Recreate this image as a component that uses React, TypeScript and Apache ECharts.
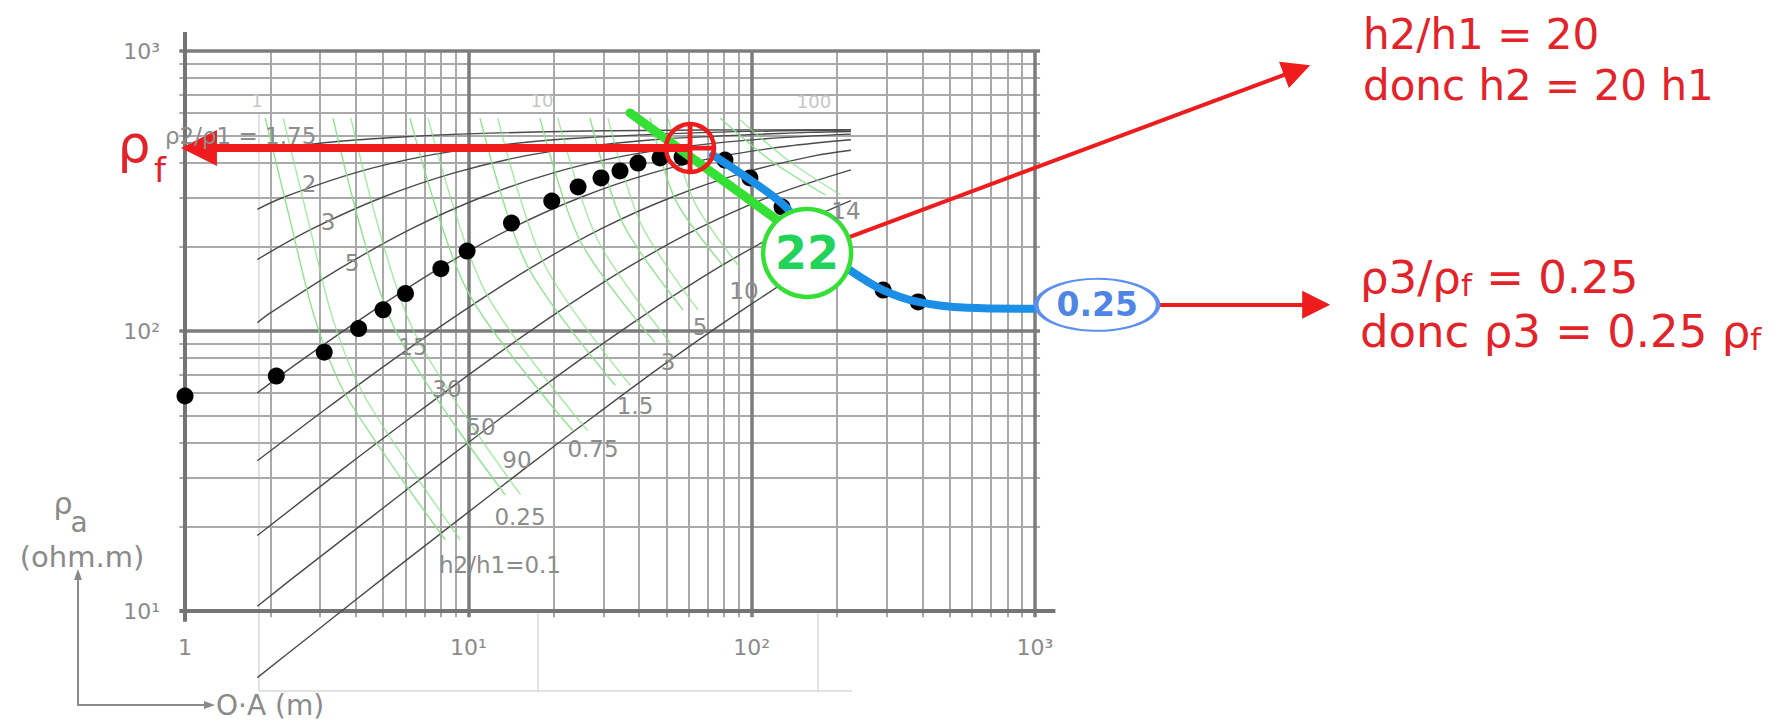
import React, { useEffect, useRef } from "react";
import * as echarts from "echarts";

// ---------- axis ticks ----------
const xTickValues = [1, 10, 100, 1000];
const xTickLabels = ["1", "10¹", "10²", "10³"];
const yTickValues = [10, 100, 1000];
const yTickLabels = ["10¹", "10²", "10³"];

// ---------- log grid ----------
const xMinorGrid = [2, 3, 4, 5, 6, 7, 8, 9, 20, 30, 40, 50, 60, 70, 80, 90, 200, 300, 400, 500, 600, 700, 800, 900];
const xMajorGrid = [10, 100, 1000];
const yMinorGrid = [20, 30, 40, 50, 60, 70, 80, 90, 200, 300, 400, 500, 600, 700, 800, 900];
const yMajorGrid = [100, 1000];

// faint frame of the underlying abacus (data units)
const abacusFrameX = [1.825, 17.62, 171.6];
const abacusFrameBottom = 5.18;
const abacusFrameRight = 226;

// ---------- field measurements (AB/2 in m, rho_a in ohm.m) ----------
const fieldX = [1, 2.1, 3.1, 4.1, 5.0, 6.0, 8.0, 9.9, 14.2, 19.7, 24.4, 29.4, 34.3, 39.7, 47.5, 56.8, 80.5, 98.6, 128, 291, 387];
const fieldY = [58.6, 69, 84, 102, 119, 136, 167, 193, 243, 291, 327, 352, 373, 398, 415, 418, 408, 352, 277, 140, 127];

// ---------- abacus black curves ----------
const curve175 = [[1.8, 437], [3.16, 471], [5.62, 492], [10, 506], [31.6, 519], [224, 524]];
const curve2 = [[1.8, 272], [2.24, 301], [3.98, 367], [7.08, 422], [12.6, 460], [22.4, 486], [70.8, 512], [224, 522]];
const curve3 = [[1.8, 180], [2.82, 232], [5.01, 301], [8.91, 367], [15.85, 422], [28.2, 460], [50.1, 486], [158.5, 512], [224, 516]];
const curve5 = [[1.8, 107], [2.0, 116], [3.55, 168], [6.31, 232], [11.2, 301], [19.95, 367], [35.5, 422], [63.1, 460], [112, 486], [224, 505]];
const curve10 = [[1.8, 60.1], [2.51, 77.1], [4.47, 115.6], [7.94, 168], [14.1, 232], [25.1, 301], [44.7, 367], [79.4, 422], [141, 460], [224, 482]];
const curve15 = [[1.8, 34.4], [2.95, 50.2], [5.25, 77.1], [9.33, 115.6], [16.6, 168], [29.5, 232], [52.5, 301], [93.3, 367], [166, 422], [224, 442]];
const curve30 = [[1.8, 18.6], [3.63, 32.3], [6.46, 50.2], [11.5, 77.1], [20.4, 115.6], [36.3, 168], [64.6, 232], [115, 301], [224, 376]];
const curve50 = [[1.8, 10.4], [2.4, 13.1], [4.27, 20.6], [7.59, 32.3], [13.5, 50.2], [24, 77.1], [42.7, 115.6], [75.9, 168], [135, 232], [224, 292]];
const curve90 = [[1.8, 5.78], [2.82, 8.28], [5.01, 13.1], [8.91, 20.6], [15.85, 32.3], [28.2, 50.2], [50.1, 77.1], [89.1, 115.6], [158.5, 168], [224, 199]];
const blackCurves = [curve175, curve2, curve3, curve5, curve10, curve15, curve30, curve50, curve90];

// ---------- abacus green curves ----------
const greenA01 = [[1.92, 576], [2.35, 249], [2.88, 110], [3.73, 58], [8.28, 18]];
const greenA025 = [[3.33, 576], [5.42, 105], [13.5, 26]];
const greenA075 = [[6.23, 576], [9.89, 140], [23.4, 44]];
const greenA15 = [[11, 576], [16.1, 172], [33, 64]];
const greenA3 = [[17.9, 576], [24.8, 210], [45.6, 91]];
const greenA5 = [[26.9, 576], [35.2, 241], [57.3, 119]];
const greenA10 = [[43.8, 576], [54.1, 291], [80.6, 168]];
const greenA14 = [[77.4, 576], [116, 408], [182, 306]];
const greenB01 = [[2.22, 576], [2.72, 249], [3.33, 110], [4.32, 58], [9.35, 18]];
const greenB025 = [[3.85, 576], [6.27, 105], [15.3, 26]];
const greenB075 = [[7.21, 576], [11.4, 140], [26.4, 44]];
const greenB15 = [[12.7, 576], [18.6, 172], [37.3, 64]];
const greenB3 = [[20.7, 576], [28.7, 210], [51.5, 91]];
const greenB5 = [[31.1, 576], [40.7, 241], [64.7, 119]];
const greenB10 = [[50.7, 576], [62.6, 291], [91.1, 168]];
const greenB14 = [[89.5, 576], [134, 408], [206, 306]];
const greenCurves = [greenA01, greenA025, greenA075, greenA15, greenA3, greenA5, greenA10, greenA14,
  greenB01, greenB025, greenB075, greenB15, greenB3, greenB5, greenB10, greenB14];

// ---------- interpretation ----------
const blueFit = [[73, 425], [99, 346], [133, 275], [161, 211], [222, 165], [291, 140], [387, 127], [576, 121], [985, 120]];
const greenFit = [[37.2, 601], [125.9, 245]];
const crossPoint = [60.6, 450];
const rhoFArrowEnd = [1.12, 450];
const circle22 = [156.9, 190];
const circle22Text = "22";
const ellipse025 = [1657, 124];
const ellipse025Text = "0.25";
const diagArrowEnd = [8414, 855];
const hArrowEnd = [9825, 124];

// ---------- texts ----------
const curveLabelTexts = ["ρ2/ρ1 = 1.75", "2", "3", "5", "15", "30", "50", "90", "0.25", "h2/h1=0.1", "0.75", "1.5", "3", "5", "10", "14"];
const curveLabelPos = [[165, 136, "left"], [309, 184], [328, 222], [352, 263], [413, 347], [447, 389], [481, 427], [517, 460], [520, 517], [500, 565], [593, 449], [635, 406], [668, 362], [700, 327], [744, 291], [846, 211]];
const abacusTopTexts = ["1", "10", "100"];
const abacusTopPos = [[257, 100], [542, 100], [814, 101]];

const FONT = '"DejaVu Sans", Verdana, sans-serif';
const RED = "#ee1c1c";
const RED_TXT = "#e3232a";
const GRAY = "#8a8a8a";

function seg(a: number[], b: number[], style: any) {
  return { coords: [a, b], lineStyle: style };
}

function tickLabel(values: number[], labels: string[]) {
  return (v: number) => {
    for (let i = 0; i < values.length; i++) {
      if (Math.abs(Math.log10(v) - Math.log10(values[i])) < 1e-6) return labels[i];
    }
    return "";
  };
}

function txt(text: string, x: number, y: number, size: number, color: string, align = "center", weight = "normal") {
  return {
    type: "text",
    z: 20,
    silent: true,
    style: {
      text, x, y, fill: color, fontSize: size, fontFamily: FONT, fontWeight: weight,
      align, verticalAlign: "middle", textAlign: align, textVerticalAlign: "middle",
    },
  };
}

// rich text: big part followed by a lowered small "f"
function richSub(main: string, sub: string, tail: string, x: number, y: number) {
  const big = { fontSize: 45, fontFamily: FONT, fill: RED_TXT, color: RED_TXT, lineHeight: 52, verticalAlign: "bottom" };
  const small = { fontSize: 31, fontFamily: FONT, fill: RED_TXT, color: RED_TXT, lineHeight: 30, verticalAlign: "bottom" };
  return {
    type: "text",
    z: 20,
    silent: true,
    style: {
      text: `{a|${main}}{s|${sub}}` + (tail ? `{a|${tail}}` : ""),
      x, y, fill: RED_TXT, fontFamily: FONT,
      align: "left", verticalAlign: "middle", textAlign: "left", textVerticalAlign: "middle",
      rich: { a: big, s: small },
    },
  };
}

function buildOption() {
  const minorStyle = { color: "#a9a9a9", width: 2, opacity: 1 };
  const majorStyle = { color: "#7d7d7d", width: 3.5, opacity: 1 };
  const axisStyle = { color: "#757575", width: 4, opacity: 1 };
  const X_LO = 0.955, X_HI = 1042, Y_LO = 9.5, X_AX_END = 1180, Y_AX_LO = 9.15, Y_AX_END = 1170;

  const gridData = [
    ...xMinorGrid.map((v) => seg([v, Y_LO], [v, 1000], minorStyle)),
    ...yMinorGrid.map((v) => seg([X_LO, v], [X_HI, v], minorStyle)),
    ...xMajorGrid.map((v) => seg([v, Y_LO], [v, 1000], majorStyle)),
    ...yMajorGrid.map((v) => seg([X_LO, v], [X_HI, v], majorStyle)),
    seg([X_LO, 10], [X_AX_END, 10], axisStyle),
    seg([1, Y_AX_LO], [1, Y_AX_END], axisStyle),
  ];

  const faintStyle = { color: "#d9d9d9", width: 1.5, opacity: 1 };
  const abacusData = [
    ...abacusFrameX.map((v, i) => seg([v, abacusFrameBottom], [v, i === 0 ? 600 : 10], faintStyle)),
    seg([abacusFrameX[0], abacusFrameBottom], [abacusFrameRight, abacusFrameBottom], faintStyle),
  ];

  const series: any[] = [
    {
      type: "lines", coordinateSystem: "cartesian2d", clip: false, silent: true, z: 1,
      lineStyle: { opacity: 1 }, data: abacusData,
    },
    {
      type: "lines", coordinateSystem: "cartesian2d", clip: false, silent: true, z: 1,
      lineStyle: { opacity: 1 }, data: gridData,
    },
    ...blackCurves.map((d) => ({
      type: "line", data: d, smooth: 0.35, showSymbol: false, symbol: "none", clip: false, silent: true, z: 2,
      lineStyle: { color: "#4a4a4a", width: 1.4 },
    })),
    ...greenCurves.map((d, i) => ({
      type: "line", data: d, smooth: 0.3, showSymbol: false, symbol: "none", clip: false, silent: true, z: 3,
      lineStyle: { color: "#88e288", width: 1.4, opacity: i < 8 ? 0.95 : 0.75 },
    })),
    {
      type: "scatter", data: fieldX.map((x, i) => [x, fieldY[i]]), symbolSize: 17, z: 4, silent: true,
      itemStyle: { color: "#000", opacity: 1 },
    },
    {
      type: "line", data: blueFit, smooth: 0.35, showSymbol: false, symbol: "none", clip: false, silent: true, z: 5,
      lineStyle: { color: "#1b8fe6", width: 8, cap: "round" },
    },
    {
      type: "line", data: greenFit, showSymbol: false, symbol: "none", clip: false, silent: true, z: 6,
      lineStyle: { color: "#33e033", width: 9, cap: "round" },
    },
    {
      type: "lines", coordinateSystem: "cartesian2d", clip: false, silent: true, z: 7,
      symbol: ["none", "triangle"], symbolSize: 30,
      lineStyle: { color: RED, opacity: 1 },
      data: [
        { coords: [crossPoint, rhoFArrowEnd], lineStyle: { color: RED, width: 8, opacity: 1 }, symbolSize: 36 },
        { coords: [circle22, diagArrowEnd], lineStyle: { color: RED, width: 4, opacity: 1 }, symbolSize: 28 },
        { coords: [ellipse025, hArrowEnd], lineStyle: { color: RED, width: 4, opacity: 1 }, symbolSize: 28 },
      ],
    },
    {
      type: "scatter", data: [crossPoint], symbolSize: 48, z: 8, silent: true, clip: false,
      itemStyle: { color: "rgba(0,0,0,0)", borderColor: RED, borderWidth: 4.5, opacity: 1 },
    },
    {
      type: "scatter", data: [crossPoint], symbolSize: 48, z: 8, silent: true, clip: false,
      symbol: "path://M9,0H11V20H9Z M0,9H20V11H0Z",
      itemStyle: { color: RED, opacity: 1 },
    },
    {
      type: "scatter", data: [{ value: circle22, name: circle22Text }], symbolSize: 88, z: 9, silent: true, clip: false,
      itemStyle: { color: "#fff", borderColor: "#36df36", borderWidth: 4.5, opacity: 1 },
      label: { show: true, position: "inside", formatter: "{b}", color: "#22d35a", fontSize: 46, fontWeight: "bold", fontFamily: FONT },
    },
    {
      type: "scatter", data: [{ value: ellipse025, name: ellipse025Text }], symbolSize: [122, 52], z: 9, silent: true, clip: false,
      itemStyle: { color: "#fff", borderColor: "#5b8ff0", borderWidth: 3, opacity: 1 },
      label: { show: true, position: "inside", formatter: "{b}", color: "#4f86e6", fontSize: 33, fontWeight: "bold", fontFamily: FONT },
    },
  ];

  const graphics: any[] = [
    ...curveLabelTexts.map((t, i) => txt(t, curveLabelPos[i][0] as number, curveLabelPos[i][1] as number, 23, "#8c8c8c", (curveLabelPos[i][2] as string) || "center")),
    ...abacusTopTexts.map((t, i) => txt(t, abacusTopPos[i][0], abacusTopPos[i][1], 18, "#c6c6c6")),
    // rho_f on the left
    txt("ρ", 134, 144, 52, RED_TXT),
    txt("f", 160, 170, 34, RED_TXT),
    // rho_a label
    txt("ρ", 63, 503, 30, GRAY),
    txt("a", 79, 522, 28, GRAY),
    txt("(ohm.m)", 82, 557, 29, GRAY),
    txt("O·A (m)", 216, 705, 28, GRAY, "left"),
    {
      type: "polyline", z: 20, silent: true,
      shape: { points: [[78, 578], [78, 705], [206, 705]] },
      style: { stroke: GRAY, lineWidth: 2, fill: "none" },
    },
    { type: "polygon", z: 20, silent: true, shape: { points: [[78, 569], [74, 580], [82, 580]] }, style: { fill: GRAY } },
    { type: "polygon", z: 20, silent: true, shape: { points: [[215, 705], [204, 701], [204, 709]] }, style: { fill: GRAY } },
    // red explanation texts
    txt("h2/h1 = 20", 1363, 34, 42, RED_TXT, "left"),
    txt("donc h2 = 20 h1", 1363, 85, 42, RED_TXT, "left"),
    richSub("ρ3/ρ", "f", " = 0.25", 1360, 274),
    richSub("donc ρ3 = 0.25 ρ", "f", "", 1360, 328),
  ];

  return {
    animation: false,
    backgroundColor: "#fff",
    grid: { left: 185, top: 51, width: 850, height: 560, containLabel: false },
    xAxis: {
      type: "log", logBase: 10, min: 1, max: 1000,
      axisLine: { show: false }, axisTick: { show: false }, splitLine: { show: false },
      axisLabel: { formatter: tickLabel(xTickValues, xTickLabels), color: "#8a8a8a", fontSize: 22, margin: 25, fontFamily: FONT },
    },
    yAxis: {
      type: "log", logBase: 10, min: 10, max: 1000,
      axisLine: { show: false }, axisTick: { show: false }, splitLine: { show: false },
      axisLabel: { formatter: tickLabel(yTickValues, yTickLabels), color: "#8a8a8a", fontSize: 22, margin: 25, fontFamily: FONT },
    },
    series,
    graphic: graphics,
  };
}

export default function App() {
  const ref = useRef<HTMLDivElement>(null);
  useEffect(() => {
    if (!ref.current) return;
    const chart = echarts.init(ref.current, undefined, { renderer: "svg" });
    chart.setOption(buildOption() as any);
    return () => chart.dispose();
  }, []);
  return (
    <div
      ref={ref}
      style={{ position: "fixed", left: 0, top: 0, width: 1783, height: 720, background: "#fff" }}
    />
  );
}
